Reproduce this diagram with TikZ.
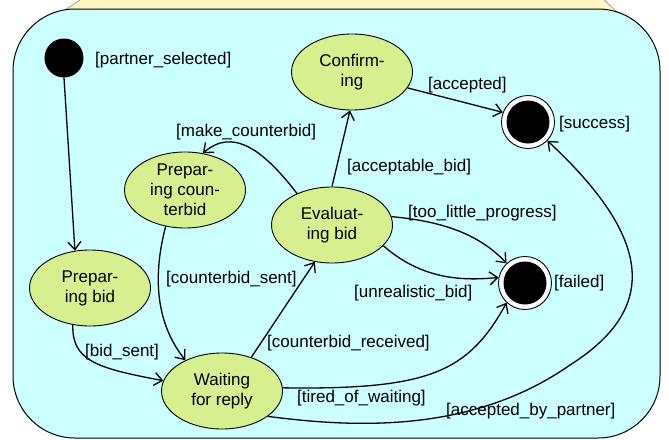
\documentclass[tikz,border=0pt]{standalone}
\usepackage{fontspec}
\setmainfont{Liberation Sans}
\usetikzlibrary{arrows.meta,shapes.geometric}

\definecolor{regionfill}{RGB}{204,255,255}
\definecolor{tabfill}{RGB}{255,246,196}
\definecolor{statefill}{RGB}{214,240,143}

\tikzset{
  statenode/.style={ellipse, draw=black, line width=0.9pt, fill=statefill,
    minimum width=121pt, minimum height=76pt, inner sep=0pt, align=center,
    font=\fontsize{17}{20}\selectfont},
  initnode/.style={circle, fill=black, minimum size=39pt, inner sep=0pt},
  finalnode/.style={circle, draw=black, line width=0.9pt, fill=white,
    minimum size=53pt, inner sep=0pt,
    path picture={\fill[black] (path picture bounding box.center) circle (21.5pt);}},
  guard/.style={anchor=west, inner sep=0pt, font=\fontsize{17}{20}\selectfont},
  trans/.style={draw=black, line width=1.3pt,
    -{Straight Barb[length=8pt,width=13pt,line width=1.3pt]}},
}

\begin{document}
\begin{tikzpicture}[x=1pt,y=-1pt]
\useasboundingbox (0,0) rectangle (669,439);

% tab of the enclosing region, partly hidden behind it
\filldraw[fill=tabfill, draw=black!45, line width=0.6pt]
  (50,20) -- (83,-2) -- (602,-2) -- (628,22) -- cycle;
% enclosing composite state
\filldraw[fill=regionfill, draw=black, line width=1pt, rounded corners=62pt]
  (13,9) rectangle (660,438);

% states
\node[initnode] (init) at (64,58) {};
\node[statenode] (pbid) at (90,288) {Prepar-\\ing bid};
\node[statenode] (pcb)  at (185,190) {Prepar-\\ing coun-\\terbid};
\node[statenode] (eval) at (332,225) {Evaluat-\\ing bid};
\node[statenode] (conf) at (352,72) {Confirm-\\ing};
\node[statenode] (wait) at (222,391) {Waiting\\for reply};
\node[finalnode] (succ) at (528,122) {};
\node[finalnode] (fail) at (525,283) {};

% transitions
\draw[trans] (init.south) -- (pbid.112);
\draw[trans] (pbid.-115) .. controls (72,360) and (95,368) .. (wait.170);
\draw[trans] (pcb.-118) .. controls (153,275) and (155,322) .. (wait.140);
\draw[trans] (wait.49) -- (eval.-115);
\draw[trans] (eval.138) .. controls (262,148) and (232,128) .. (pcb.64);
\draw[trans] (eval.north) -- (conf.-93);
\draw[trans] (conf.-16) -- (succ.159);
\draw[trans] (eval.8) .. controls (440,221) and (478,233) .. (fail.133);
\draw[trans] (eval.-22) .. controls (418,276) and (455,282) .. (fail.168);
\draw[trans] (wait.3) .. controls (430,390) and (468,372) .. (fail.-133);
\draw[trans] (wait.-29) .. controls (350,427) and (470,435) .. (570,365)
  .. controls (660,308) and (652,238) .. (succ.-44);

% guards
\node[guard] (g1)  at (95,60)   {[partner\_selected]};
\node[guard] (g2)  at (428,85)  {[accepted]};
\node[guard] (g3)  at (559,124) {[success]};
\node[guard] (g4)  at (176,132) {[make\_counterbid]};
\node[guard] (g5)  at (347,167) {[acceptable\_bid]};
\node[guard] (g6)  at (408,213) {[too\_little\_progress]};
\node[guard] (g7)  at (554,283) {[failed]};
\node[guard] (g8)  at (354,293) {[unrealistic\_bid]};
\node[guard] (g9)  at (166,279) {[counterbid\_sent]};
\node[guard] (g10) at (85,352)  {[bid\_sent]};
\node[guard] (g11) at (267,343) {[counterbid\_received]};
\node[guard] (g12) at (297,398) {[tired\_of\_waiting]};
\node[guard] (g13) at (446,411) {[accepted\_by\_partner]};
\end{tikzpicture}
\end{document}
